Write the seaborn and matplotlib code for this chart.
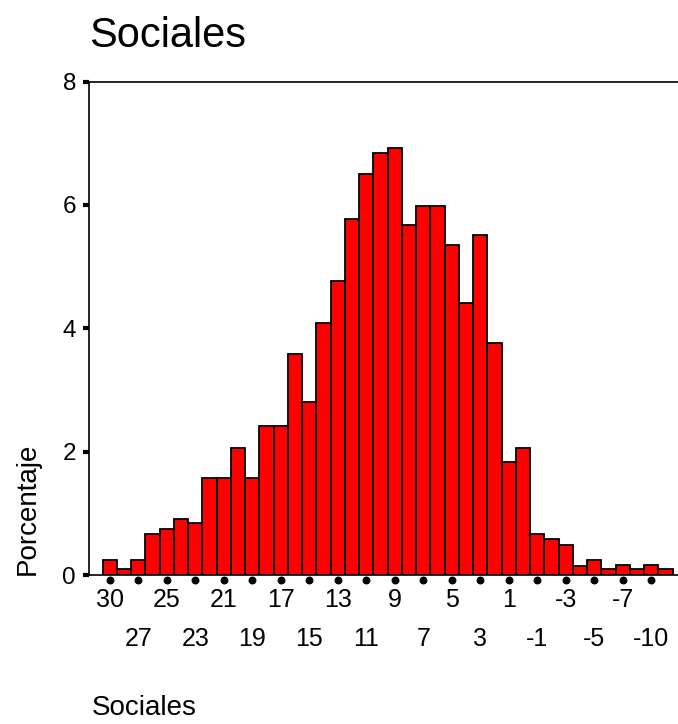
import matplotlib
matplotlib.use("Agg")
import matplotlib.pyplot as plt
import pandas as pd
import seaborn as sns

# categorias (valor de Sociales) y porcentaje de cada barra
categorias = [30, 28, 27, 26, 25, 24, 23, 22, 21, 20, 19, 18, 17, 16, 15, 14,
              13, 12, 11, 10, 9, 8, 7, 6, 5, 4, 3, 2, 1, 0, -1, -2, -3, -4,
              -5, -6, -7, -8, -10, -11]
porcentaje = [0.25, 0.09, 0.25, 0.67, 0.74, 0.90, 0.85, 1.58, 1.58, 2.06,
              1.58, 2.42, 2.42, 3.59, 2.81, 4.08, 4.77, 5.77, 6.50, 6.84,
              6.93, 5.68, 5.99, 5.99, 5.35, 4.41, 5.51, 3.76, 1.84, 2.06,
              0.67, 0.58, 0.49, 0.15, 0.25, 0.09, 0.16, 0.09, 0.16, 0.09]
y_ticks = [0, 2, 4, 6, 8]

sns.set_theme(style="ticks")
plt.rcParams['font.family'] = ['Liberation Sans', 'DejaVu Sans']
plt.rcParams['text.color'] = 'black'
plt.rcParams['axes.labelcolor'] = 'black'
plt.rcParams['xtick.color'] = 'black'
plt.rcParams['ytick.color'] = 'black'

df = pd.DataFrame({'Sociales': [str(c) for c in categorias], 'Porcentaje': porcentaje})
orden = [str(c) for c in categorias]

fig = plt.figure(figsize=(6.78, 7.24), dpi=100)
ax = fig.add_axes([0.1317, 0.2058, 0.8683, 0.6816])

sns.barplot(data=df, x='Sociales', y='Porcentaje', order=orden, color='#ff0000',
            saturation=1, width=1, edgecolor='black', linewidth=1.3, ax=ax)

n = len(categorias)
ax.set_xlim(-1.44, n - 0.13)
ax.set_ylim(0, 8)
ax.set_yticks(y_ticks)
ax.set_yticklabels([str(t) for t in y_ticks], fontsize=17.5)

# etiquetas alternadas en dos filas
idx_fila1 = list(range(0, n, 4))
idx_fila2 = list(range(2, n, 4))
ax.set_xticks(idx_fila1)
ax.set_xticklabels([str(categorias[i]) for i in idx_fila1], fontsize=18)
ax.set_xticks(idx_fila2, minor=True)
ax.set_xticklabels([str(categorias[i]) for i in idx_fila2], minor=True, fontsize=18)
ax.tick_params(axis='x', which='major', length=0, pad=9)
ax.tick_params(axis='x', which='minor', length=0, pad=37.5)
ax.tick_params(axis='y', left=True, length=4.5, width=3, direction='out', pad=5,
               colors='black')

# puntos bajo el eje
idx_puntos = list(range(0, n, 2))
ax.scatter(idx_puntos, [-0.0111] * len(idx_puntos), transform=ax.get_xaxis_transform(),
           s=22, color='black', clip_on=False, zorder=5)

for lado in ['left', 'bottom', 'top']:
    ax.spines[lado].set_visible(True)
    ax.spines[lado].set_color('black')
    ax.spines[lado].set_linewidth(1.2)
ax.spines['right'].set_visible(False)

ax.set_xlabel('')
ax.set_ylabel('Porcentaje', fontsize=20, loc='bottom', labelpad=16)
ax.set_title('Sociales', fontsize=30, loc='left', pad=25)
fig.text(0.1357, 0.004, 'Sociales', fontsize=20, va='bottom', ha='left')

fig.savefig('out.png', dpi=100)
